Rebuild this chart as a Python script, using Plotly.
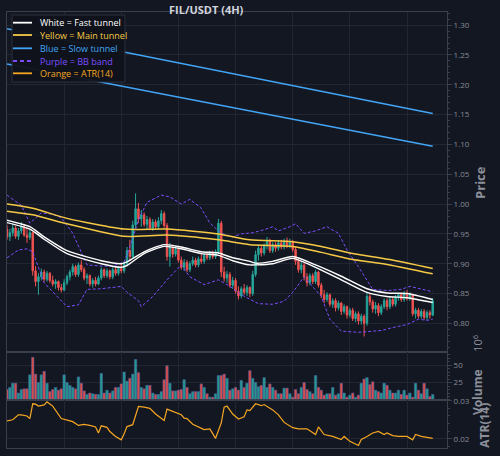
import plotly.graph_objects as go

# ---------------- data ----------------
opens = [0.958,0.945,0.952,0.960,0.946,0.955,0.962,0.948,0.944,0.952,
         0.888,0.870,0.878,0.886,0.874,0.884,0.872,0.866,0.870,0.860,
         0.856,0.868,0.878,0.886,0.895,0.882,0.898,0.890,0.876,0.880,
         0.866,0.872,0.866,0.876,0.890,0.880,0.888,0.878,0.890,0.884,
         0.892,0.888,0.900,0.922,0.912,0.965,0.992,0.975,0.982,0.966,
         0.974,0.960,0.970,0.962,0.972,0.984,0.964,0.912,0.928,0.916,
         0.924,0.906,0.894,0.902,0.890,0.900,0.906,0.898,0.908,0.904,
         0.914,0.910,0.918,0.912,0.920,0.968,0.886,0.876,0.882,0.864,
         0.872,0.854,0.846,0.858,0.852,0.860,0.850,0.882,0.915,0.926,
         0.918,0.930,0.938,0.922,0.932,0.926,0.935,0.928,0.938,0.930,
         0.936,0.924,0.904,0.890,0.898,0.878,0.868,0.880,0.870,0.886,
         0.864,0.848,0.840,0.848,0.832,0.838,0.826,0.834,0.820,0.828,
         0.814,0.822,0.808,0.816,0.804,0.812,0.800,0.845,0.836,0.824,
         0.830,0.818,0.828,0.838,0.828,0.840,0.832,0.844,0.848,0.840,
         0.850,0.842,0.848,0.816,0.822,0.812,0.820,0.810,0.818,0.814]
highs = [0.965,0.958,0.968,0.963,0.960,0.970,0.965,0.960,0.958,0.954,
         0.896,0.884,0.892,0.890,0.888,0.886,0.880,0.874,0.872,0.866,
         0.874,0.882,0.890,0.900,0.898,0.902,0.906,0.894,0.884,0.882,
         0.876,0.878,0.880,0.894,0.892,0.892,0.890,0.894,0.896,0.896,
         0.900,0.904,0.928,0.940,0.972,1.018,1.002,0.990,0.986,0.980,
         0.978,0.975,0.974,0.978,0.990,0.988,0.968,0.935,0.932,0.930,
         0.928,0.912,0.908,0.906,0.904,0.912,0.910,0.912,0.916,0.918,
         0.920,0.922,0.922,0.924,0.975,0.972,0.895,0.888,0.886,0.878,
         0.876,0.862,0.862,0.866,0.864,0.862,0.888,0.922,0.932,0.930,
         0.934,0.945,0.942,0.936,0.936,0.940,0.940,0.942,0.944,0.942,
         0.940,0.928,0.910,0.904,0.902,0.884,0.884,0.884,0.890,0.888,
         0.868,0.856,0.852,0.850,0.842,0.842,0.838,0.836,0.832,0.830,
         0.826,0.826,0.820,0.820,0.816,0.815,0.852,0.850,0.840,0.836,
         0.834,0.832,0.842,0.842,0.844,0.844,0.848,0.852,0.852,0.854,
         0.856,0.852,0.850,0.826,0.826,0.824,0.824,0.822,0.822,0.842]
lows = [0.940,0.938,0.946,0.942,0.940,0.950,0.945,0.935,0.940,0.880,
        0.862,0.848,0.872,0.870,0.870,0.868,0.862,0.858,0.855,0.852,
        0.854,0.864,0.872,0.880,0.878,0.878,0.886,0.872,0.866,0.862,
        0.860,0.862,0.864,0.872,0.876,0.876,0.874,0.874,0.880,0.880,
        0.884,0.884,0.896,0.905,0.908,0.960,0.968,0.962,0.962,0.958,
        0.956,0.955,0.958,0.958,0.966,0.960,0.905,0.895,0.910,0.912,
        0.902,0.890,0.888,0.886,0.886,0.896,0.894,0.894,0.900,0.900,
        0.906,0.906,0.908,0.908,0.916,0.878,0.870,0.868,0.860,0.858,
        0.850,0.840,0.842,0.848,0.846,0.844,0.846,0.878,0.905,0.912,
        0.914,0.924,0.918,0.918,0.920,0.922,0.924,0.924,0.926,0.926,
        0.920,0.898,0.885,0.884,0.872,0.862,0.864,0.866,0.866,0.860,
        0.842,0.834,0.836,0.828,0.826,0.820,0.822,0.814,0.816,0.808,
        0.810,0.804,0.802,0.798,0.798,0.778,0.796,0.830,0.818,0.816,
        0.812,0.814,0.824,0.822,0.824,0.828,0.828,0.838,0.836,0.836,
        0.838,0.838,0.812,0.808,0.808,0.808,0.806,0.806,0.808,0.812]
closes = [0.945,0.952,0.960,0.946,0.955,0.962,0.948,0.944,0.952,0.888,
          0.870,0.878,0.886,0.874,0.884,0.872,0.866,0.870,0.860,0.856,
          0.868,0.878,0.886,0.895,0.882,0.898,0.890,0.876,0.880,0.866,
          0.872,0.866,0.876,0.890,0.880,0.888,0.878,0.890,0.884,0.892,
          0.888,0.900,0.922,0.912,0.965,0.992,0.975,0.982,0.966,0.974,
          0.960,0.970,0.962,0.972,0.984,0.964,0.912,0.928,0.916,0.924,
          0.906,0.894,0.902,0.890,0.900,0.906,0.898,0.908,0.904,0.914,
          0.910,0.918,0.912,0.920,0.968,0.886,0.876,0.882,0.864,0.872,
          0.854,0.846,0.858,0.852,0.860,0.850,0.882,0.915,0.926,0.918,
          0.930,0.938,0.922,0.932,0.926,0.935,0.928,0.938,0.930,0.936,
          0.924,0.904,0.890,0.898,0.878,0.868,0.880,0.870,0.886,0.864,
          0.848,0.840,0.848,0.832,0.838,0.826,0.834,0.820,0.828,0.814,
          0.822,0.808,0.816,0.804,0.812,0.800,0.845,0.836,0.824,0.830,
          0.818,0.828,0.838,0.828,0.840,0.832,0.844,0.848,0.840,0.850,
          0.842,0.848,0.816,0.822,0.812,0.820,0.810,0.818,0.814,0.838]
volumes_m = [15,18,24,24,10,15,16,16,36,61,
             37,25,36,41,24,12,15,18,14,16,
             36,25,21,18,16,33,24,13,8,10,
             9,8,8,38,10,14,10,13,18,18,
             23,40,27,31,37,58,39,18,16,21,
             21,10,8,8,12,29,49,24,13,13,
             14,15,29,18,9,12,12,12,23,18,
             9,4,4,9,35,35,37,31,14,16,
             18,14,28,18,24,42,31,25,19,21,
             32,18,23,18,14,9,9,17,17,9,
             4,15,9,18,25,15,12,9,35,18,
             14,7,9,9,18,7,9,24,10,4,
             7,10,4,7,24,30,32,22,26,14,
             12,10,24,21,14,10,10,14,8,14,
             7,10,4,24,14,9,24,16,5,8]

# tunnels (sampled along the candle index)
fast_x = [0,8,13,21,33,40,42,48,55,61,68,74,79,85,87,93,100,108,117,126,133,140,149]
fast_up = [0.973,0.962,0.945,0.922,0.905,0.900,0.903,0.920,0.932,0.928,0.920,0.918,0.910,0.904,0.901,0.904,0.912,0.898,0.879,0.858,0.851,0.850,0.840]
fast_lo = [0.969,0.958,0.941,0.917,0.900,0.894,0.897,0.917,0.929,0.925,0.917,0.914,0.905,0.898,0.898,0.900,0.909,0.894,0.873,0.852,0.845,0.843,0.835]
main_x = [0,9,21,41,56,74,85,100,110,120,134,149]
main_up = [1.000,0.993,0.976,0.958,0.958,0.950,0.940,0.937,0.929,0.918,0.907,0.892]
main_lo = [0.988,0.982,0.967,0.946,0.948,0.940,0.932,0.929,0.919,0.908,0.898,0.883]
slow_x = [0,41,95,149]
slow_up = [1.294,1.255,1.2035,1.152]
slow_lo = [1.235,1.197,1.147,1.097]
bbu_x = [0,5,8,12,16,19,23,26,28,33,37,41,43,46,49,54,57,61,64,68,71,75,79,82,86,90,93,95,99,101,104,108,112,116,119,123,126,128,133,138,141,145,149]
bb_up = [1.015,0.998,0.968,0.985,0.983,0.977,0.951,0.918,0.898,0.896,0.896,0.903,0.928,0.973,1.003,1.015,1.012,1.000,1.008,0.993,0.968,0.951,0.945,0.950,0.952,0.957,0.962,0.955,0.962,0.967,0.951,0.955,0.962,0.951,0.923,0.895,0.873,0.857,0.855,0.857,0.862,0.858,0.853]
bbl_x = [0,4,7,9,13,17,21,25,28,33,40,42,46,47,51,56,61,64,69,74,78,82,85,88,93,97,100,104,106,110,113,117,123,127,131,135,140,144,147,149]
bb_lo = [0.910,0.923,0.925,0.920,0.868,0.848,0.828,0.831,0.857,0.858,0.862,0.852,0.838,0.828,0.845,0.873,0.898,0.878,0.865,0.873,0.862,0.848,0.840,0.833,0.832,0.837,0.852,0.878,0.867,0.845,0.807,0.787,0.785,0.787,0.788,0.793,0.798,0.807,0.805,0.807]
atr_x = [0,2,4,5,7,8,9,10,11,13,14,16,19,21,23,25,27,29,31,32,33,35,36,38,40,41,42,44,46,48,50,52,55,56,58,61,62,63,65,68,69,71,73,75,76,77,79,81,83,84,85,87,89,90,93,95,97,100,102,105,108,109,111,114,117,118,120,123,124,126,128,130,132,133,135,137,140,142,143,145,147,149]
atr_v = [.0247,.0250,.0263,.0263,.0260,.0253,.0292,.0291,.0286,.0289,.0297,.0286,.0253,.0248,.0245,.0235,.0238,.0235,.0231,.0215,.0234,.0230,.0219,.0206,.0197,.0213,.0232,.0237,.0285,.0283,.0280,.0265,.0248,.0278,.0272,.0263,.0254,.0253,.0238,.0227,.0224,.0226,.0201,.0242,.0283,.0286,.0265,.0252,.0258,.0276,.0274,.0292,.0287,.0290,.0276,.0263,.0243,.0229,.0226,.0226,.0211,.0231,.0211,.0206,.0198,.0206,.0193,.0182,.0198,.0206,.0215,.0219,.0211,.0215,.0208,.0206,.0206,.0197,.0211,.0206,.0204,.0201]

price_ticks = [0.80, 0.85, 0.90, 0.95, 1.00, 1.05, 1.10, 1.15, 1.20, 1.25, 1.30]
vol_ticks = [25, 50]
atr_ticks = [0.02, 0.03]

legend_items = ["White = Fast tunnel", "Yellow = Main tunnel", "Blue = Slow tunnel",
                "Purple = BB band", "Orange = ATR(14)"]

# ---------------- style ----------------
BG = "#131722"
GRID = "#222633"
FRAME = "#3a3f4d"
TXT = "#878b96"
UP = "#26a69a"
DN = "#ef5350"
WHITE = "#ffffff"
YEL = "#f6c945"
BLUE = "#42a5f5"
PURP = "#7c4dff"
ORNG = "#f5a623"
FONT = "Open Sans"

idx = list(range(len(closes)))
vol_colors = [UP if c >= o else DN for o, c in zip(opens, closes)]

fig = go.Figure()
fig.add_trace(go.Candlestick(x=idx, open=opens, high=highs, low=lows, close=closes,
                             increasing=dict(line=dict(color=UP, width=1), fillcolor=UP),
                             decreasing=dict(line=dict(color=DN, width=1), fillcolor=DN),
                             whiskerwidth=0, xaxis="x", yaxis="y", showlegend=False))
for xs, ys in [(slow_x, slow_up), (slow_x, slow_lo)]:
    fig.add_trace(go.Scatter(x=xs, y=ys, mode="lines", line=dict(color=BLUE, width=1.5),
                             xaxis="x", yaxis="y", showlegend=False))
for xs, ys in [(bbu_x, bb_up), (bbl_x, bb_lo)]:
    fig.add_trace(go.Scatter(x=xs, y=ys, mode="lines", line=dict(color=PURP, width=1, dash="3px,2px"),
                             xaxis="x", yaxis="y", showlegend=False))
for xs, ys in [(main_x, main_up), (main_x, main_lo)]:
    fig.add_trace(go.Scatter(x=xs, y=ys, mode="lines", line=dict(color=YEL, width=1.5, shape="spline", smoothing=0.6),
                             xaxis="x", yaxis="y", showlegend=False))
for xs, ys in [(fast_x, fast_up), (fast_x, fast_lo)]:
    fig.add_trace(go.Scatter(x=xs, y=ys, mode="lines", line=dict(color=WHITE, width=1.4, shape="spline", smoothing=0.6),
                             xaxis="x", yaxis="y", showlegend=False))
fig.add_trace(go.Bar(x=idx, y=volumes_m, marker=dict(color=vol_colors, opacity=0.9,
                     line=dict(color="rgba(80,100,170,0.9)", width=0.6)),
                     xaxis="x2", yaxis="y2", showlegend=False))
fig.add_trace(go.Scatter(x=atr_x, y=atr_v, mode="lines", line=dict(color=ORNG, width=1.2),
                         xaxis="x3", yaxis="y3", showlegend=False))

xcommon = dict(range=[0, 154], showticklabels=False, tick0=0, dtick=20, gridcolor=GRID,
               showline=True, mirror=True, linecolor=FRAME, linewidth=1, zeroline=False, ticks="")
ycommon = dict(side="right", showline=True, mirror=True, linecolor=FRAME, linewidth=1,
               gridcolor=GRID, zeroline=False, ticks="outside", ticklen=4, tickcolor=FRAME,
               tickfont=dict(size=8, color=TXT, family=FONT))

D1, D2 = 0.1101, 0.2202
fig.update_layout(
    width=500, height=456, paper_bgcolor=BG, plot_bgcolor=BG,
    margin=dict(l=7, r=53, t=12, b=8),
    font=dict(family=FONT, color=TXT), showlegend=False, bargap=0.12,
    xaxis=dict(domain=[0, 1], anchor="y", rangeslider=dict(visible=False), **xcommon),
    xaxis2=dict(domain=[0, 1], anchor="y2", matches="x", **xcommon),
    xaxis3=dict(domain=[0, 1], anchor="y3", matches="x", **xcommon),
    yaxis=dict(domain=[D2, 1], anchor="x", range=[0.752, 1.322], tickvals=price_ticks,
               tickformat=".2f", minor=dict(dtick=0.01, tick0=0, ticks="outside", ticklen=2,
                                            tickcolor=FRAME, showgrid=False), **ycommon),
    yaxis2=dict(domain=[D1, D2], anchor="x2", range=[0, 68.6], tickvals=vol_ticks,
                minor=dict(dtick=5, tick0=0, ticks="outside", ticklen=2, tickcolor=FRAME, showgrid=False), **ycommon),
    yaxis3=dict(domain=[0, D1], anchor="x3", range=[0.01755, 0.0302], tickvals=atr_ticks,
                tickformat=".2f", minor=dict(dtick=0.002, ticks="outside", ticklen=2, tickcolor=FRAME, showgrid=False),
                **ycommon),
)

# title and axis titles
fig.add_annotation(text="<b>FIL/USDT (4H)</b>", xref="paper", yref="paper", x=0.4545, y=1.0057,
                   xanchor="center", yanchor="middle", showarrow=False,
                   font=dict(size=11, color="#d1d4dc", family=FONT))
for txt, xx, yy, sz in [("<b>Price</b>", 1.075, 0.608, 13), ("<b>Volume</b>", 1.068, 0.128, 12),
                        ("<b>ATR(14)</b>", 1.086, 0.053, 12), ("10<sup>6</sup>", 1.07, 0.241, 11)]:
    fig.add_annotation(text=txt, xref="paper", yref="paper", x=xx, y=yy, textangle=-90,
                       xanchor="center", yanchor="middle", showarrow=False,
                       font=dict(size=sz, color="#8c909a", family=FONT))

# hand-drawn legend box
fig.add_shape(type="rect", xref="paper", yref="paper", x0=0.0114, x1=0.268, y0=0.8394, y1=0.9931,
              fillcolor="#0f121a", line=dict(color="#2e3340", width=1), opacity=0.95, layer="above")
leg_colors = [WHITE, YEL, BLUE, PURP, ORNG]
leg_dash = ["solid", "solid", "solid", "4px,3px", "solid"]
leg_y = [0.9755, 0.9472, 0.9167, 0.8876, 0.8594]
for name, col, dsh, yy in zip(legend_items, leg_colors, leg_dash, leg_y):
    fig.add_shape(type="line", xref="paper", yref="paper", x0=0.0136, x1=0.0568, y0=yy, y1=yy,
                  line=dict(color=col, width=1.8, dash=dsh), layer="above")
    fig.add_annotation(text=name, xref="paper", yref="paper", x=0.0698, y=yy, xanchor="left",
                       yanchor="middle", showarrow=False, font=dict(size=9, color=col, family=FONT))

fig.write_html("out.html")
